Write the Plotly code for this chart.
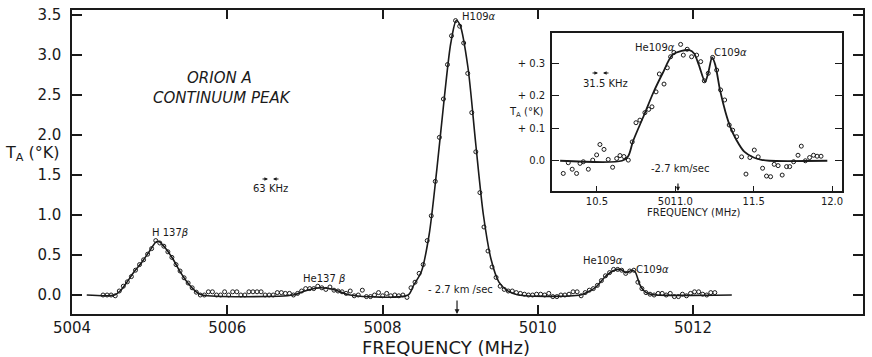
import plotly.graph_objects as go

# ---------------- main spectrum: observed channels ----------------
main_freq = [
    5004.400, 5004.452, 5004.504, 5004.557, 5004.609, 5004.661, 5004.713, 5004.765, 5004.818, 5004.870,
    5004.922, 5004.974, 5005.026, 5005.079, 5005.131, 5005.183, 5005.235, 5005.287, 5005.340, 5005.392,
    5005.444, 5005.496, 5005.548, 5005.601, 5005.653, 5005.705, 5005.757, 5005.809, 5005.862, 5005.914,
    5005.966, 5006.018, 5006.070, 5006.123, 5006.175, 5006.227, 5006.279, 5006.331, 5006.384, 5006.436,
    5006.488, 5006.540, 5006.592, 5006.645, 5006.697, 5006.749, 5006.801, 5006.853, 5006.906, 5006.958,
    5007.010, 5007.062, 5007.114, 5007.166, 5007.218, 5007.270, 5007.323, 5007.375, 5007.427, 5007.479,
    5007.532, 5007.584, 5007.636, 5007.688, 5007.740, 5007.793, 5007.845, 5007.897, 5007.949, 5008.002,
    5008.054, 5008.106, 5008.158, 5008.210, 5008.263, 5008.315, 5008.367, 5008.419, 5008.472, 5008.524,
    5008.576, 5008.628, 5008.680, 5008.733, 5008.785, 5008.837, 5008.889, 5008.941, 5008.994, 5009.046,
    5009.098, 5009.150, 5009.202, 5009.255, 5009.307, 5009.359, 5009.411, 5009.463, 5009.516, 5009.568,
    5009.620, 5009.672, 5009.724, 5009.776, 5009.828, 5009.881, 5009.933, 5009.985, 5010.037, 5010.089,
    5010.142, 5010.194, 5010.246, 5010.298, 5010.350, 5010.403, 5010.455, 5010.507, 5010.559, 5010.611,
    5010.664, 5010.716, 5010.768, 5010.820, 5010.872, 5010.925, 5010.977, 5011.029, 5011.081, 5011.133,
    5011.185, 5011.238, 5011.290, 5011.342, 5011.394, 5011.446, 5011.499, 5011.551, 5011.603, 5011.655,
    5011.707, 5011.760, 5011.812, 5011.864, 5011.916, 5011.968, 5012.020, 5012.073, 5012.125, 5012.177,
    5012.229, 5012.281,
]
main_temp = [
    0.00, 0.00, 0.00, -0.01, 0.05, 0.11, 0.165, 0.23, 0.31, 0.38,
    0.44, 0.51, 0.58, 0.68, 0.65, 0.61, 0.54, 0.47, 0.38, 0.30,
    0.215, 0.15, 0.09, 0.035, 0.00, 0.00, 0.04, 0.04, 0.00, 0.00,
    0.04, 0.00, 0.04, 0.04, 0.00, 0.00, 0.04, 0.04, 0.04, 0.04,
    0.00, 0.00, 0.00, 0.03, 0.03, 0.02, 0.02, 0.00, 0.02, 0.05,
    0.08, 0.08, 0.08, 0.11, 0.09, 0.07, 0.10, 0.06, 0.05, 0.04,
    0.02, 0.05, -0.01, 0.00, 0.06, -0.02, -0.02, 0.00, 0.03, -0.01,
    0.02, -0.01, 0.00, -0.01, 0.00, -0.03, 0.09, 0.16, 0.27, 0.38,
    0.68, 0.99, 1.42, 1.97, 2.45, 2.88, 3.24, 3.43, 3.36, 3.15,
    2.77, 2.28, 1.79, 1.28, 0.85, 0.55, 0.35, 0.22, 0.11, 0.07,
    0.05, 0.05, 0.03, 0.02, 0.01, 0.00, 0.00, 0.01, 0.01, 0.00,
    0.02, -0.02, -0.02, 0.00, 0.00, 0.01, 0.04, 0.04, -0.01, 0.03,
    0.06, 0.08, 0.12, 0.18, 0.24, 0.28, 0.32, 0.32, 0.31, 0.27,
    0.30, 0.31, 0.16, 0.08, 0.03, 0.01, 0.00, 0.02, 0.02, 0.00,
    0.02, -0.02, -0.02, 0.01, -0.01, 0.02, 0.04, 0.04, 0.01, 0.00,
    0.03, 0.03,
]

# ---------------- main spectrum: fitted curve ----------------
fit_freq = [
    5004.19, 5004.55, 5004.62, 5004.70, 5004.80, 5004.90, 5005.00, 5005.08, 5005.12, 5005.20,
    5005.30, 5005.40, 5005.50, 5005.60, 5005.68, 5006.85, 5007.00, 5007.20, 5007.40, 5007.58,
    5008.33, 5008.40, 5008.50, 5008.60, 5008.70, 5008.80, 5008.88, 5008.95, 5009.00, 5009.10,
    5009.20, 5009.30, 5009.40, 5009.50, 5009.60, 5009.75, 5010.55, 5010.65, 5010.75, 5010.85,
    5010.95, 5011.03, 5011.09, 5011.13, 5011.17, 5011.22, 5011.26, 5011.31, 5011.36, 5011.43,
    5011.52, 5012.50,
]
fit_temp = [
    0.00, 0.00, 0.05, 0.15, 0.29, 0.41, 0.55, 0.66, 0.67, 0.59,
    0.45, 0.28, 0.14, 0.04, 0.00, 0.00, 0.05, 0.09, 0.06, 0.00,
    0.00, 0.12, 0.29, 0.75, 1.57, 2.50, 3.15, 3.43, 3.37, 2.85,
    1.90, 1.00, 0.44, 0.16, 0.06, 0.00, 0.00, 0.04, 0.10, 0.21,
    0.29, 0.32, 0.31, 0.28, 0.29, 0.31, 0.28, 0.14, 0.06, 0.015,
    0.00, 0.00,
]

# ---------------- inset: He109a / C109a detail ----------------
inset_freq = [
    5010.285, 5010.317, 5010.342, 5010.370, 5010.392, 5010.413, 5010.445, 5010.473, 5010.498, 5010.519,
    5010.545, 5010.572, 5010.600, 5010.626, 5010.647, 5010.672, 5010.700, 5010.725, 5010.749, 5010.774,
    5010.806, 5010.830, 5010.851, 5010.877, 5010.898, 5010.928, 5010.949, 5010.970, 5010.991, 5011.034,
    5011.051, 5011.076, 5011.104, 5011.136, 5011.162, 5011.185, 5011.210, 5011.238, 5011.264, 5011.289,
    5011.315, 5011.344, 5011.366, 5011.391, 5011.423, 5011.451, 5011.476, 5011.504, 5011.529, 5011.557,
    5011.582, 5011.608, 5011.631, 5011.656, 5011.682, 5011.710, 5011.730, 5011.755, 5011.783, 5011.804,
    5011.830, 5011.857, 5011.882, 5011.905, 5011.930,
]
inset_temp = [
    -0.039, -0.006, -0.026, -0.039, -0.008, -0.003, -0.026, 0.002, 0.018, 0.050,
    0.035, 0.004, -0.020, 0.007, 0.016, 0.013, 0.002, 0.058, 0.117, 0.125,
    0.148, 0.158, 0.166, 0.212, 0.267, 0.236, 0.286, 0.320, 0.333, 0.358,
    0.325, 0.343, 0.320, 0.325, 0.305, 0.246, 0.269, 0.318, 0.279, 0.218,
    0.187, 0.110, 0.094, 0.074, 0.012, -0.041, 0.010, 0.033, 0.012, -0.023,
    -0.047, -0.049, -0.011, -0.015, -0.044, -0.018, -0.018, -0.003, 0.017, 0.045,
    0.000, 0.010, 0.017, 0.014, 0.014,
]
inset_fit_freq = [
    5010.265, 5010.66, 5010.70, 5010.73, 5010.80, 5010.86, 5010.92, 5010.98, 5011.04, 5011.09,
    5011.12, 5011.15, 5011.19, 5011.21, 5011.235, 5011.255, 5011.285, 5011.32, 5011.35, 5011.39,
    5011.44, 5011.50, 5011.55, 5011.60, 5011.97,
]
inset_fit_temp = [
    0.000, 0.000, 0.015, 0.060, 0.140, 0.210, 0.270, 0.325, 0.338, 0.340,
    0.330, 0.295, 0.243, 0.270, 0.318, 0.295, 0.218, 0.150, 0.105, 0.064,
    0.028, 0.010, 0.003, 0.000, 0.000,
]

# tick labels
main_xticks = [5004, 5006, 5008, 5010, 5012]
main_xticktext = ["5004", "5006", "5008", "5010", "5012"]
main_yticks = [0.0, 0.5, 1.0, 1.5, 2.0, 2.5, 3.0, 3.5]
main_yticktext = ["0.0", "0.5", "1.0", "1.5", "2.0", "2.5", "3.0", "3.5"]
inset_xticks = [5010.5, 5011.0, 5011.5, 5012.0]
inset_xticktext = ["10.5", "5011.0", "11.5", "12.0"]
inset_yticks = [0.0, 0.1, 0.2, 0.3]
inset_yticktext = ["0.0", "+ 0.1", "+ 0.2", "+ 0.3"]

FONT = "DejaVu Sans"
INK = "#1a1a1a"

fig = go.Figure()
fig.add_trace(go.Scatter(x=fit_freq, y=fit_temp, mode="lines",
                         line=dict(color=INK, width=1.6, shape="spline", smoothing=0.8),
                         xaxis="x", yaxis="y", showlegend=False, hoverinfo="skip"))
fig.add_trace(go.Scatter(x=main_freq, y=main_temp, mode="markers",
                         marker=dict(symbol="circle-open", size=4, color=INK, line=dict(width=1)),
                         xaxis="x", yaxis="y", showlegend=False))
fig.add_trace(go.Scatter(x=inset_fit_freq, y=inset_fit_temp, mode="lines",
                         line=dict(color=INK, width=1.8, shape="spline", smoothing=0.8),
                         xaxis="x2", yaxis="y2", showlegend=False, hoverinfo="skip"))
fig.add_trace(go.Scatter(x=inset_freq, y=inset_temp, mode="markers",
                         marker=dict(symbol="circle-open", size=4, color=INK, line=dict(width=1)),
                         xaxis="x2", yaxis="y2", showlegend=False))

axis_common = dict(showline=True, linecolor=INK, linewidth=1.5, mirror="allticks",
                   ticks="inside", tickcolor=INK, showgrid=False, zeroline=False,
                   automargin=False)

fig.update_layout(
    template="none",
    width=872, height=357,
    margin=dict(l=72, r=9, t=10, b=43, autoexpand=False),
    paper_bgcolor="white", plot_bgcolor="white",
    font=dict(family=FONT, color=INK),
    xaxis=dict(**axis_common, range=[5004, 5014.19], domain=[0, 1], anchor="y",
               tickvals=main_xticks, ticktext=main_xticktext, ticklen=9, tickwidth=1.5,
               tickfont=dict(size=15, family=FONT, color=INK), ticklabelstandoff=-1),
    yaxis=dict(**axis_common, range=[-0.2375, 3.5625], domain=[0, 1], anchor="x",
               tickvals=main_yticks, ticktext=main_yticktext, ticklen=10, tickwidth=1.5,
               tickfont=dict(size=15, family=FONT, color=INK), ticklabelstandoff=6),
    xaxis2=dict(**axis_common, range=[5010.213, 5012.064], domain=[0.6068, 0.9735], anchor="y2",
                tickvals=inset_xticks, ticktext=inset_xticktext, ticklen=5, tickwidth=1,
                tickfont=dict(size=10, family=FONT, color=INK), ticklabelstandoff=0),
    yaxis2=dict(**axis_common, range=[-0.093, 0.393], domain=[0.4046, 0.9243], anchor="x2",
                tickvals=inset_yticks, ticktext=inset_yticktext, ticklen=7, tickwidth=1,
                tickfont=dict(size=10, family=FONT, color=INK), ticklabelstandoff=3),
)
fig.update_layout(xaxis2_mirror=True)


def px_to_paper(px, py):
    return (px - 72) / 791, (314 - py) / 304


def label(text, px, py, size=10, italic=False, xanchor="center"):
    x, y = px_to_paper(px, py)
    t = f"<i>{text}</i>" if italic else text
    fig.add_annotation(x=x, y=y, xref="paper", yref="paper", text=t, showarrow=False,
                       xanchor=xanchor, yanchor="middle", font=dict(size=size, family=FONT, color=INK))


# axis titles
label("FREQUENCY (MHz)", 446, 347.5, size=18)
label("T<sub>A</sub> (°K)", 32, 153, size=16)
label("FREQUENCY (MHz)", 693, 212.5, size=10)
label("T<sub>A</sub> (°K)", 526, 112, size=10)

# main annotations
label("ORION A", 219, 78, size=15, italic=True)
label("CONTINUUM PEAK", 222, 98, size=15, italic=True)
label("63 KHz", 270, 188, size=10)
label("H 137<i>β</i>", 170, 232, size=10)
label("He137 <i>β</i>", 324, 278, size=10)
label("H109<i>α</i>", 460, 16, size=10, xanchor="left")
label("- 2.7 km /sec", 460, 289, size=10)
label("He109<i>α</i>", 603, 260, size=10)
label("C109<i>α</i>", 652, 269, size=10)

# inset annotations
label("He109<i>α</i>", 655, 47, size=10)
label("C109<i>α</i>", 730, 52, size=10)
label("31.5 KHz", 605, 83, size=10)
label("-2.7 km/sec", 680, 168, size=10)

# velocity arrows (tip on the frequency axis)
fig.add_annotation(x=5008.96, y=-0.2375, xref="x", yref="y", text="", showarrow=True,
                   ax=0, ay=-15, arrowhead=2, arrowsize=0.8, arrowwidth=1.2, arrowcolor=INK)
fig.add_annotation(x=5011.017, y=-0.093, xref="x2", yref="y2", text="", showarrow=True,
                   ax=0, ay=-9, arrowhead=2, arrowsize=0.7, arrowwidth=1.2, arrowcolor=INK)


# resolution markers (pairs of arrows pointing inward)
def res_arrows(px_left, px_right, py):
    for px, ax in ((px_left, -7), (px_right, 7)):
        x, y = px_to_paper(px, py)
        fig.add_annotation(x=x, y=y, xref="paper", yref="paper", text="", showarrow=True,
                           ax=ax, ay=0, arrowhead=2, arrowsize=0.6, arrowwidth=1.2, arrowcolor=INK)


res_arrows(268, 273, 179)
res_arrows(598, 603, 73)

fig.write_html("out.html", config={"displayModeBar": False},
               post_script="document.body.style.margin='0px';")
